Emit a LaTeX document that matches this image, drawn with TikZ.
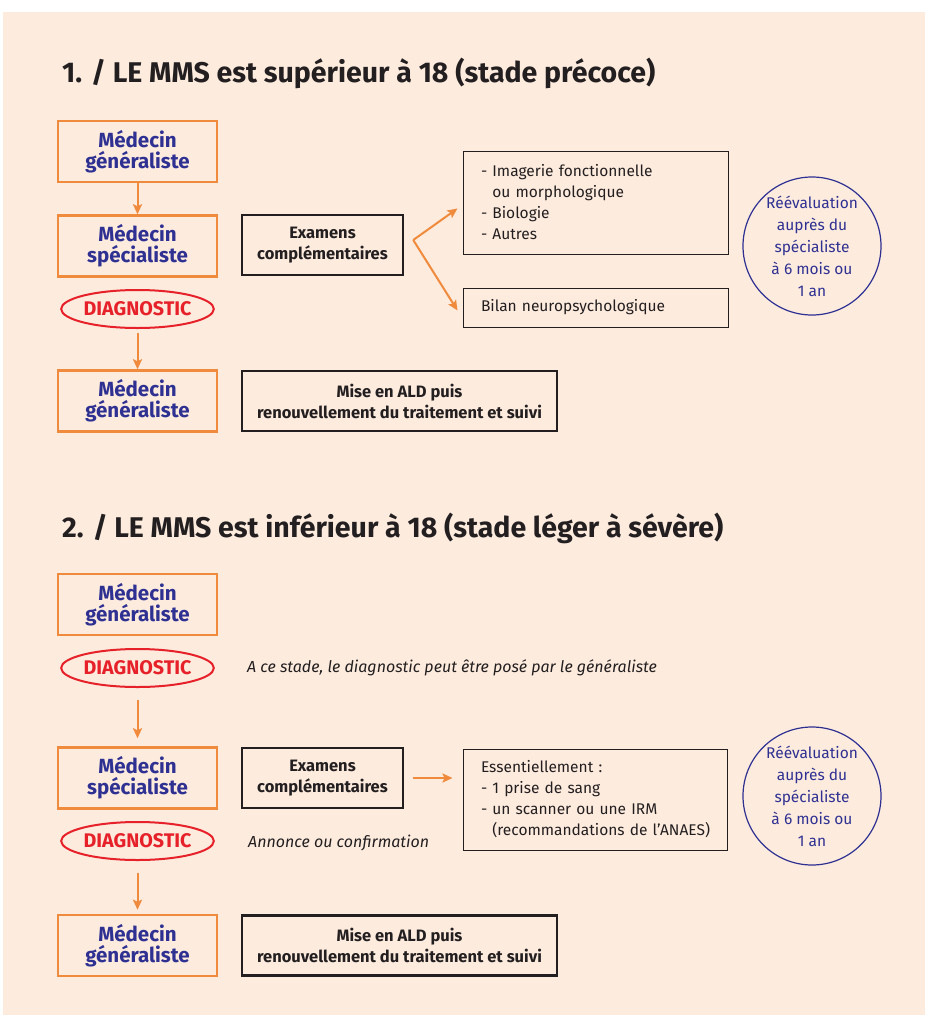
\documentclass[tikz,border=0pt]{standalone}
\usepackage{fontspec}
\setmainfont{Fira Sans}
\usetikzlibrary{arrows.meta,shapes.geometric,calc}
\definecolor{mmsorange}{HTML}{F08A3C}
\definecolor{mmsblue}{HTML}{2E3192}
\definecolor{mmsred}{HTML}{E62129}
\definecolor{mmsbg}{HTML}{FDEBDE}
\definecolor{mmsink}{HTML}{231F20}
\tikzset{
  mms title/.style={
    anchor=base west,
    inner sep=0pt,
    text=mmsink,
    font=\bfseries\fontsize{28.5}{30}\selectfont,
  },
  mms doctor/.style={
    rectangle,
    minimum width=159pt,
    minimum height=61pt,
    line width=2.5pt,
    draw=mmsorange,
    align=center,
    text=mmsblue,
    font=\bfseries\fontsize{20.5}{21}\selectfont,
    inner sep=2pt,
  },
  mms diag/.style={
    ellipse,
    minimum width=151pt,
    minimum height=38pt,
    line width=2pt,
    draw=mmsred,
    text=mmsred,
    font=\bfseries\fontsize{19.7}{21}\selectfont,
    inner sep=0pt,
  },
  mms exam/.style={
    rectangle,
    minimum height=60pt,
    line width=2.5pt,
    draw=mmsink,
    align=center,
    text=mmsink,
    font=\bfseries\fontsize{16.5}{21}\selectfont,
  },
  mms list/.style={
    rectangle,
    line width=1pt,
    draw=mmsink,
    align=left,
    text=mmsink,
    inner xsep=18pt,
    font=\fontsize{15.5}{21}\selectfont,
  },
  mms eval/.style={
    circle,
    minimum size=138pt,
    line width=1.2pt,
    draw=mmsblue,
    align=center,
    text=mmsblue,
    inner sep=0pt,
    font=\fontsize{15.5}{22}\selectfont,
  },
  mms note/.style={
    anchor=west,
    inner sep=0pt,
    text=mmsink,
    font=\itshape\fontsize{16}{20}\selectfont,
  },
  mms arrow/.style={-{Stealth[length=10pt,width=9pt,inset=2pt]}, line width=2pt, draw=mmsorange},
}

\begin{document}
\begin{tikzpicture}[x=1pt, y=-1pt]
  \useasboundingbox (0,0) rectangle (925,1015);
  \fill[mmsbg] (3,12) rectangle (925,1015);

  \node[mms title] (title1) at (62,82) {1. / LE MMS est supérieur à 18 (stade précoce)};
  \node[mms doctor] (mg1) at (137.5,151.5) {Médecin\\généraliste};
  \node[mms doctor] (ms1) at (137.5,246) {Médecin\\spécialiste};
  \node[mms diag] (diag1) at (137.5,309) {DIAGNOSTIC};
  \node[mms doctor] (mg2) at (137.5,401) {Médecin\\généraliste};
  \node[mms exam, minimum width=161pt] (exam1) at (322.5,245) {Examens\\complémentaires};
  \node[mms list, text width=229pt, minimum height=103pt] (list1) at (595.5,202.5)
    {- Imagerie fonctionnelle\\\phantom{- }ou morphologique\\- Biologie\\- Autres};
  \node[mms list, text width=229pt, minimum height=39pt] (bilan1) at (595.5,307.5)
    {Bilan neuropsychologique};
  \node[mms eval] (eval1) at (812,246) {Réévaluation\\auprès du\\spécialiste\\à 6 mois ou\\1 an};
  \node[mms exam, minimum width=315pt] (ald1) at (399.5,401)
    {Mise en ALD puis\\renouvellement du traitement et suivi};

  \draw[mms arrow] (mg1) -- (ms1);
  \draw[mms arrow, shorten <=4pt] (diag1) -- (mg2);
  \coordinate (fork1) at ($(exam1.east)+(9pt,5pt)$);
  \draw[mms arrow] (fork1) -- ($(list1.west)+(-5pt,-6pt)$);
  \draw[mms arrow] (fork1) -- ($(bilan1.west)+(-5pt,-3pt)$);

  \node[mms title] (title2) at (62,537) {2. / LE MMS est inférieur à 18 (stade léger à sévère)};
  \node[mms doctor] (mg3) at (137.5,604.5) {Médecin\\généraliste};
  \node[mms diag] (diag2) at (137.5,668) {DIAGNOSTIC};
  \node[mms note] (note1) at (247,668) {A ce stade, le diagnostic peut être posé par le généraliste};
  \node[mms doctor] (ms2) at (137.5,778) {Médecin\\spécialiste};
  \node[mms exam, minimum width=161pt] (exam2) at (322.5,778) {Examens\\complémentaires};
  \node[mms list, text width=228pt, minimum height=101pt] (ess2) at (595,799.5)
    {Essentiellement :\\- 1 prise de sang\\- un scanner ou une IRM\\\mbox{\phantom{- }(recommandations de l’ANAES)}};
  \node[mms eval] (eval2) at (812,796) {Réévaluation\\auprès du\\spécialiste\\à 6 mois ou\\1 an};
  \node[mms diag] (diag3) at (137.5,841) {DIAGNOSTIC};
  \node[mms note] (note2) at (248,843) {Annonce ou confirmation};
  \node[mms doctor] (mg4) at (137.5,945.5) {Médecin\\généraliste};
  \node[mms exam, minimum width=315pt] (ald2) at (399.5,945.5)
    {Mise en ALD puis\\renouvellement du traitement et suivi};

  \draw[mms arrow, shorten <=12pt, shorten >=8pt] (diag2) -- (ms2);
  \draw[mms arrow, shorten <=9pt, shorten >=10pt] (exam2.east) -- (exam2.east -| ess2.west);
  \draw[mms arrow, shorten <=12pt, shorten >=4pt] (diag3) -- (mg4);
\end{tikzpicture}
\end{document}
